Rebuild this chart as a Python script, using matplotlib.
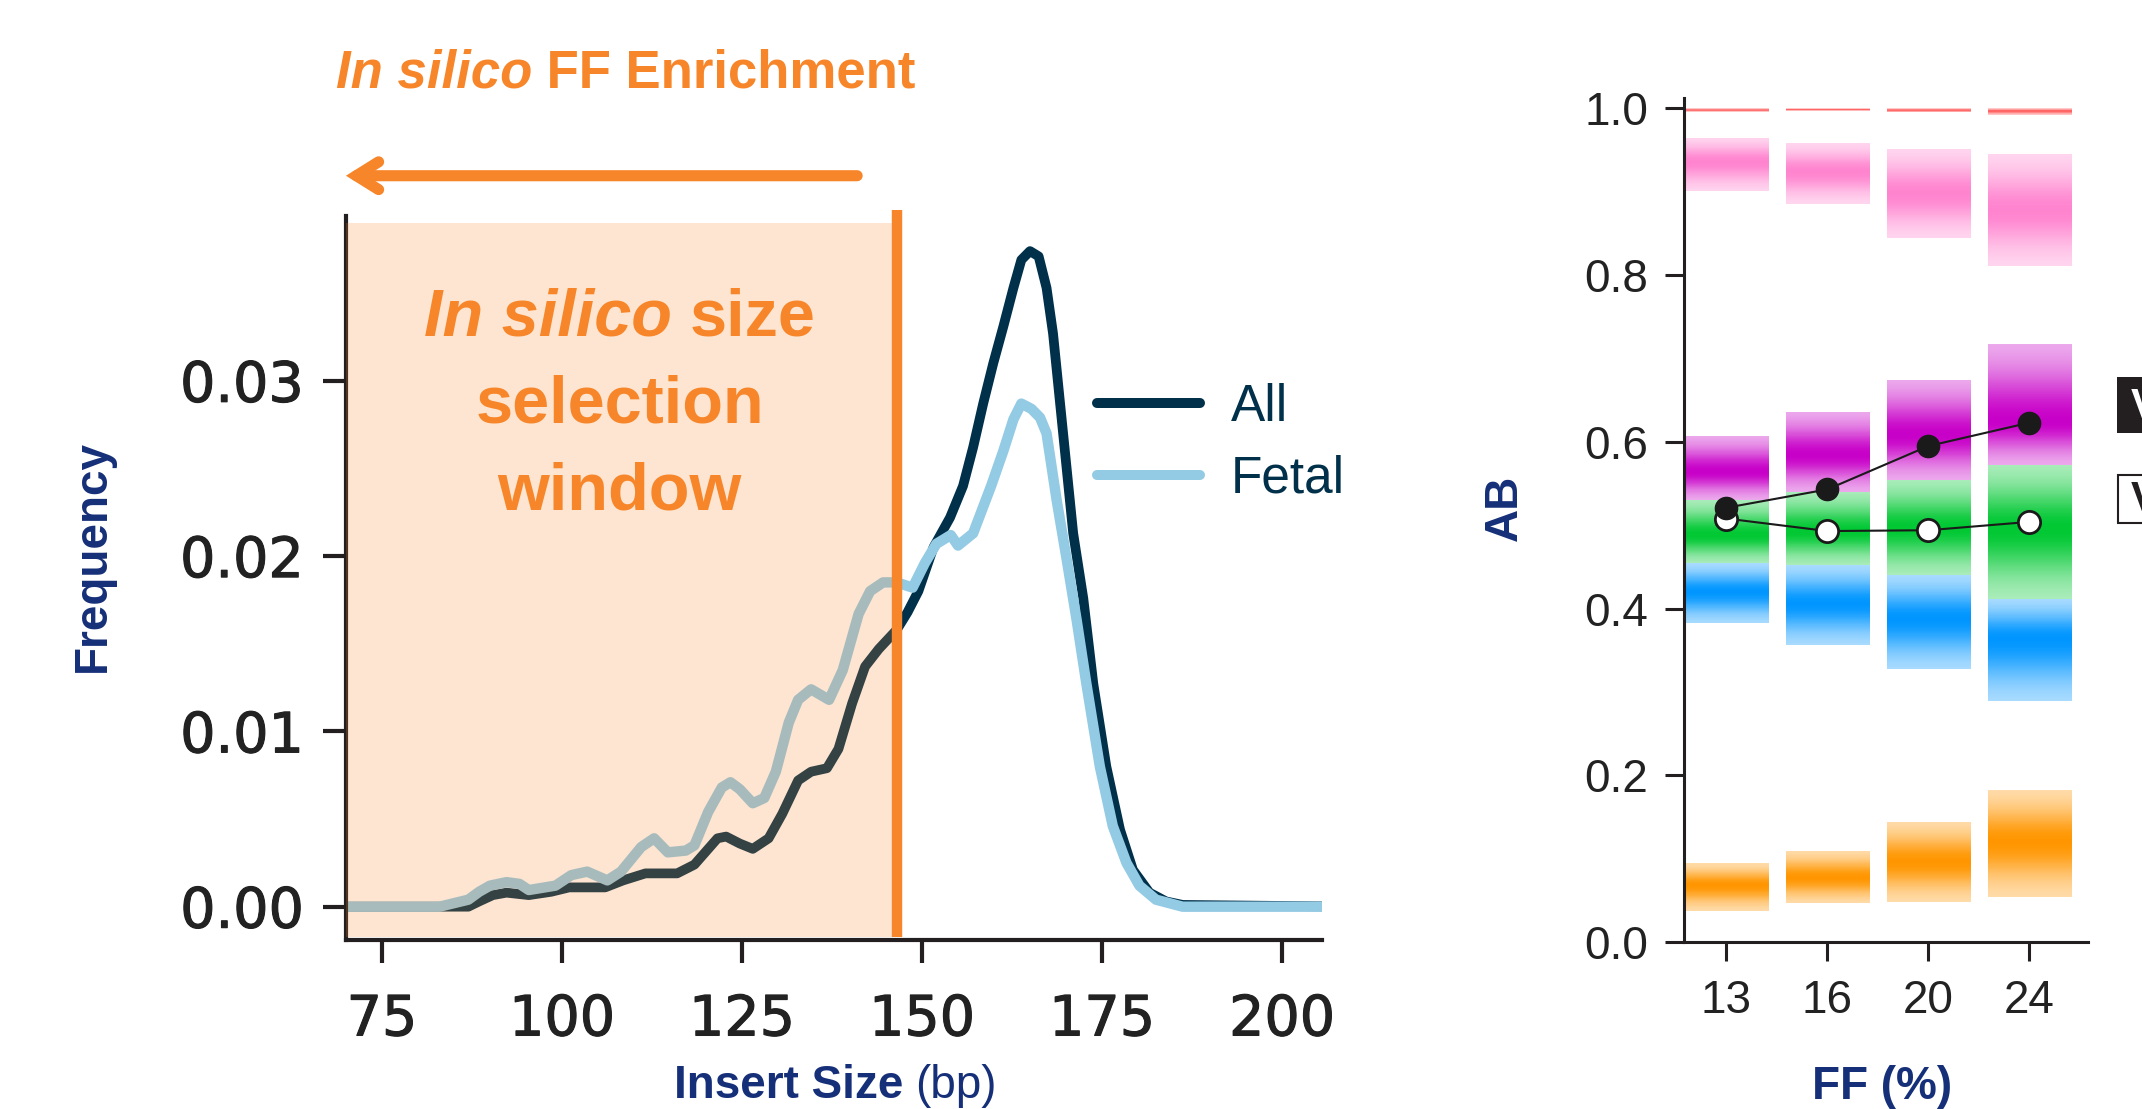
import numpy as np
import matplotlib
matplotlib.use('Agg')
import matplotlib.pyplot as plt
import matplotlib.patheffects as pe
from matplotlib import font_manager
from matplotlib.colors import to_rgb
from matplotlib.offsetbox import TextArea, HPacker, VPacker, AnnotationBbox
from matplotlib.patches import Rectangle

# fonts
names = {f.name for f in font_manager.fontManager.ttflist}
SANS = 'Liberation Sans'
NARROW = 'Liberation Sans Narrow' if 'Liberation Sans Narrow' in names else SANS
plt.rcParams['font.family'] = [SANS, 'DejaVu Sans']

NAVY = '#00304A'
LIGHT = '#93CAE4'
ORANGE = '#F7862A'
LABEL = '#152F78'
INK = '#231F20'

# %%
# left panel data: insert size distribution
all_x = [70, 87, 88.5, 90.4, 92.3, 95.4, 98.5, 101, 106, 108.5, 111.6, 116, 118.4, 121.6,
         122.8, 124.7, 126.5, 128.7, 130.6, 132.8, 134.6, 136.8, 138.4, 140.3, 142.1, 144,
         146.5, 148, 149.5, 151.6, 153.9, 155.7, 157.1, 158.5, 159.9, 161.3, 162.7, 163.8,
         165.0, 166.2, 167.3, 168.2, 169.6, 171.0, 172.4, 173.8, 175.6, 177.5, 179.3, 181.6,
         183.9, 186.2, 210]
all_y = [0, 0, 0.0003, 0.00066, 0.0008, 0.00066, 0.00085, 0.0011, 0.0011, 0.0015, 0.0019,
         0.0019, 0.0024, 0.0039, 0.0040, 0.0036, 0.0033, 0.0039, 0.0053, 0.0072, 0.0077,
         0.0079, 0.0090, 0.0116, 0.0137, 0.0147, 0.0158, 0.0168, 0.0180, 0.0205, 0.0222,
         0.0240, 0.0262, 0.0287, 0.0310, 0.0331, 0.0353, 0.0369, 0.0374, 0.0371, 0.0353,
         0.0327, 0.0270, 0.0213, 0.0176, 0.0127, 0.0080, 0.0044, 0.0021, 0.0008, 0.0003,
         0.0001, 0]

fetal_x = [70, 83, 87, 88.5, 90, 92.3, 94.1, 95.4, 99.1, 101.3, 103.5, 106.3, 108.2, 111,
           112.8, 114.7, 117.2, 118.4, 120.3, 122.2, 123.4, 124.7, 126.5, 128.1, 129.7, 131.5,
           132.8, 134.6, 137.1, 139, 141.2, 142.8, 144.6, 146.5, 148.7, 150.4, 152, 154, 155,
           157.1, 159.6, 161.3, 162.7, 163.8, 165.2, 166.4, 167.3, 168.7, 170.1, 171.5, 172.8,
           174.7, 176.5, 178.4, 180.2, 182.5, 186.2, 210]
fetal_y = [0, 0, 0.0004, 0.00085, 0.0012, 0.0014, 0.0013, 0.00095, 0.0012, 0.0018, 0.0020,
           0.0015, 0.0020, 0.0034, 0.0039, 0.0031, 0.0032, 0.0035, 0.0054, 0.0068, 0.0071,
           0.0067, 0.0059, 0.0062, 0.0077, 0.0105, 0.0118, 0.0124, 0.0118, 0.0135, 0.0167,
           0.0180, 0.0185, 0.0185, 0.0182, 0.0196, 0.0207, 0.0212, 0.0206, 0.0213, 0.0240,
           0.0260, 0.0278, 0.0287, 0.0284, 0.0279, 0.0270, 0.0232, 0.0198, 0.0163, 0.0128,
           0.0080, 0.0046, 0.0025, 0.0012, 0.0004, 0, 0]

window_start = 70
window_end = 146
cutoff = 146.6
arrow_from = 141
size_ticks = [75, 100, 125, 150, 175, 200]
freq_ticks = [0, 0.01, 0.02, 0.03]
freq_labels = ['0.00', '0.01', '0.02', '0.03']

# %%
# right panel data: AB bands per FF
ff_labels = ['13', '16', '20', '24']
red_lo = [0.996, 0.997, 0.995, 0.992]
red_mid = [0.998, 0.999, 0.998, 0.997]
red_hi = [1.000, 1.000, 1.000, 1.000]
pink_lo = [0.900, 0.886, 0.844, 0.811]
pink_mid = [0.936, 0.924, 0.898, 0.878]
pink_hi = [0.965, 0.958, 0.951, 0.945]
magenta_lo = [0.530, 0.540, 0.554, 0.572]
magenta_mid = [0.564, 0.584, 0.608, 0.624]
magenta_hi = [0.607, 0.636, 0.674, 0.717]
green_lo = [0.454, 0.452, 0.440, 0.412]
green_mid = [0.488, 0.492, 0.496, 0.496]
green_hi = [0.530, 0.540, 0.554, 0.572]
blue_lo = [0.382, 0.356, 0.327, 0.288]
blue_mid = [0.420, 0.406, 0.388, 0.364]
blue_hi = [0.454, 0.452, 0.440, 0.412]
orange_lo = [0.037, 0.046, 0.048, 0.054]
orange_mid = [0.068, 0.077, 0.096, 0.120]
orange_hi = [0.094, 0.109, 0.144, 0.182]

ab_filled = [0.521, 0.543, 0.595, 0.623]
ab_open = [0.508, 0.493, 0.494, 0.504]

# %%
fig = plt.figure(figsize=(21.42, 11.09), dpi=100)

# left panel
ax = fig.add_axes([0.1615, 0.1524, 0.4555, 0.6528])
ax.plot(all_x, all_y, color=NAVY, lw=7, solid_joinstyle='round', zorder=2, label='All')
ax.plot(fetal_x, fetal_y, color=LIGHT, lw=7.5, solid_joinstyle='round', zorder=2.1, label='Fetal')
ax.axvspan(window_start, window_end, ymin=0.004, ymax=0.99, color=ORANGE, alpha=0.21, lw=0, zorder=3)
ax.axvline(cutoff, ymin=0.004, ymax=1.008, color=ORANGE, lw=7.5, solid_capstyle='butt',
           zorder=4, clip_on=False)
ax.set_xlim(70, 205.5)
ax.set_ylim(-0.0019, 0.0394)
ax.set_xticks(size_ticks)
ax.set_yticks(freq_ticks)
ax.set_yticklabels(freq_labels)
for s in ['top', 'right']:
    ax.spines[s].set_visible(False)
for s in ['left', 'bottom']:
    ax.spines[s].set_linewidth(3)
    ax.spines[s].set_color(INK)
ax.tick_params(axis='both', length=16.5, width=3, color=INK, labelcolor='#222222')
ax.tick_params(axis='x', pad=22)
ax.tick_params(axis='y', pad=14)
for lab in ax.get_xticklabels() + ax.get_yticklabels():
    lab.set_fontfamily('DejaVu Sans')
    lab.set_fontsize(40)
    # a touch heavier than book weight, like the original's medium digits
    lab.set_path_effects([pe.withStroke(linewidth=0.8, foreground='#222222')])

# arrow above the window
ax.annotate('', xy=(window_start, 0.0417), xytext=(arrow_from, 0.0417),
            arrowprops=dict(arrowstyle='->, head_length=0.8, head_width=0.5', lw=8,
                            color=ORANGE, mutation_scale=20, shrinkA=0, shrinkB=0,
                            joinstyle='miter'),
            annotation_clip=False)

leg = ax.legend(loc='upper left', bbox_to_anchor=(0.77, 0.77), frameon=False,
                prop=dict(family=SANS, size=37), handlelength=2.0, handletextpad=0.6,
                labelspacing=0.45, borderpad=0, borderaxespad=0)
for t in leg.get_texts():
    t.set_color(NAVY)
for h in leg.get_lines():
    h.set_linewidth(7.2)
    h.set_solid_capstyle('round')

# text inside the window
big = dict(color=ORANGE, fontsize=48, fontweight='bold', family=SANS)
line1 = HPacker(children=[TextArea('In silico', textprops=dict(big, fontstyle='italic')),
                          TextArea('size', textprops=big)],
                sep=13, pad=0, align='baseline')
block = VPacker(children=[line1, TextArea('selection', textprops=big),
                          TextArea('window', textprops=big)],
                sep=18, pad=0, align='center')
ax.add_artist(AnnotationBbox(block, ((window_start + window_end) / 2, 0.0286),
                             xycoords='data', frameon=False, zorder=5))

# title
t1 = fig.text(336 / 2142, 1 - 87 / 1109, 'In silico', color=ORANGE, fontsize=38,
              fontweight='bold', fontstyle='italic', ha='left', va='baseline')
ax.annotate(' FF Enrichment', xy=(1, 0), xycoords=t1, va='bottom', ha='left',
            color=ORANGE, fontsize=38, fontweight='bold', annotation_clip=False)

fig.text(0.0435, 0.4985, 'Frequency', rotation=90, ha='center', va='center',
         fontsize=33, fontweight='bold', color=LABEL, family=NARROW)
xl = HPacker(children=[TextArea('Insert Size', textprops=dict(color=LABEL, fontsize=33, fontweight='bold', family=NARROW)),
                       TextArea('(bp)', textprops=dict(color=LABEL, fontsize=33, family=NARROW))],
             sep=8, pad=0, align='baseline')
fig.add_artist(AnnotationBbox(xl, (0.390, 0.0207), xycoords='figure fraction', frameon=False))

# %%
# right panel
ax2 = fig.add_axes([0.7862, 0.1506, 0.1885, 0.7606])
bands = [('#FF9600', orange_lo, orange_mid, orange_hi, 1.0),
         ('#0096FF', blue_lo, blue_mid, blue_hi, 1.0),
         ('#00C832', green_lo, green_mid, green_hi, 1.0),
         ('#C800C8', magenta_lo, magenta_mid, magenta_hi, 1.0),
         ('#FF6EC7', pink_lo, pink_mid, pink_hi, 0.85),
         ('#FF4D4D', red_lo, red_mid, red_hi, 0.9)]
AMIN = 0.28
yy = np.linspace(0, 1.012, 1600)
for i in range(len(ff_labels)):
    rgb = np.zeros((len(yy), 3))
    alpha = np.zeros(len(yy))
    for color, lo, mid, hi, amax in bands:
        c = np.array(to_rgb(color))
        t = np.where(yy < mid[i], (mid[i] - yy) / (mid[i] - lo[i]), (yy - mid[i]) / (hi[i] - mid[i]))
        a = np.where((yy >= lo[i]) & (yy <= hi[i]), amax * (AMIN + (1 - AMIN) * np.exp(-2.5 * t ** 2)), 0)
        out_a = a + alpha * (1 - a)
        safe = np.where(out_a > 0, out_a, 1)
        rgb = (c[None, :] * a[:, None] + rgb * (alpha * (1 - a))[:, None]) / safe[:, None]
        alpha = out_a
    img = np.column_stack([rgb, alpha]).reshape(len(yy), 1, 4)
    ax2.imshow(img, extent=[i - 0.41, i + 0.42, 0, 1.012], origin='lower', aspect='auto',
               interpolation='nearest', zorder=1)

xs = np.arange(len(ff_labels))
ax2.plot(xs, ab_open, '-o', color='#1A1A1A', lw=1.5, ms=16, mfc='white', mec='#1A1A1A', mew=2, zorder=5)
ax2.plot(xs, ab_filled, '-o', color='#1A1A1A', lw=1.5, ms=16, mfc='#1A1A1A', mec='#1A1A1A', zorder=6)
ax2.set_xlim(-0.42, 3.58)
ax2.set_ylim(0, 1.012)
ax2.set_xticks(xs)
ax2.set_xticklabels(ff_labels)
ax2.set_yticks([0, 0.2, 0.4, 0.6, 0.8, 1.0])
ax2.set_yticklabels(['0.0', '0.2', '0.4', '0.6', '0.8', '1.0'])
for s in ['top', 'right']:
    ax2.spines[s].set_visible(False)
for s in ['left', 'bottom']:
    ax2.spines[s].set_linewidth(2.2)
    ax2.spines[s].set_color(INK)
ax2.tick_params(axis='both', length=13.7, width=2.2, color=INK, labelcolor='#222222', labelsize=33)
ax2.tick_params(axis='x', pad=13)
ax2.tick_params(axis='y', pad=12)

fig.text(0.7026, 0.542, 'AB', rotation=90, ha='center', va='center',
         fontsize=33, fontweight='bold', color=LABEL, family=NARROW)
fig.text(0.8786, 0.0198, 'FF (%)', ha='center', va='center',
         fontsize=33, fontweight='bold', color=LABEL, family=NARROW)

# cropped legend boxes at the right edge
fig.add_artist(Rectangle((2117 / 2142, 1 - 433 / 1109), 0.05, 56 / 1109,
                         transform=fig.transFigure, fc=INK, ec='none'))
fig.add_artist(Rectangle((2118 / 2142, 1 - 523 / 1109), 0.05, 48 / 1109,
                         transform=fig.transFigure, fc='white', ec=INK, lw=1.5))
fig.text(2131 / 2142, 1 - 407 / 1109, 'V', color='white', fontsize=30, fontweight='bold',
         ha='left', va='center')
fig.text(2131 / 2142, 1 - 500 / 1109, 'V', color=INK, fontsize=30, fontweight='bold',
         ha='left', va='center')

fig.savefig('out.png', dpi=100)
